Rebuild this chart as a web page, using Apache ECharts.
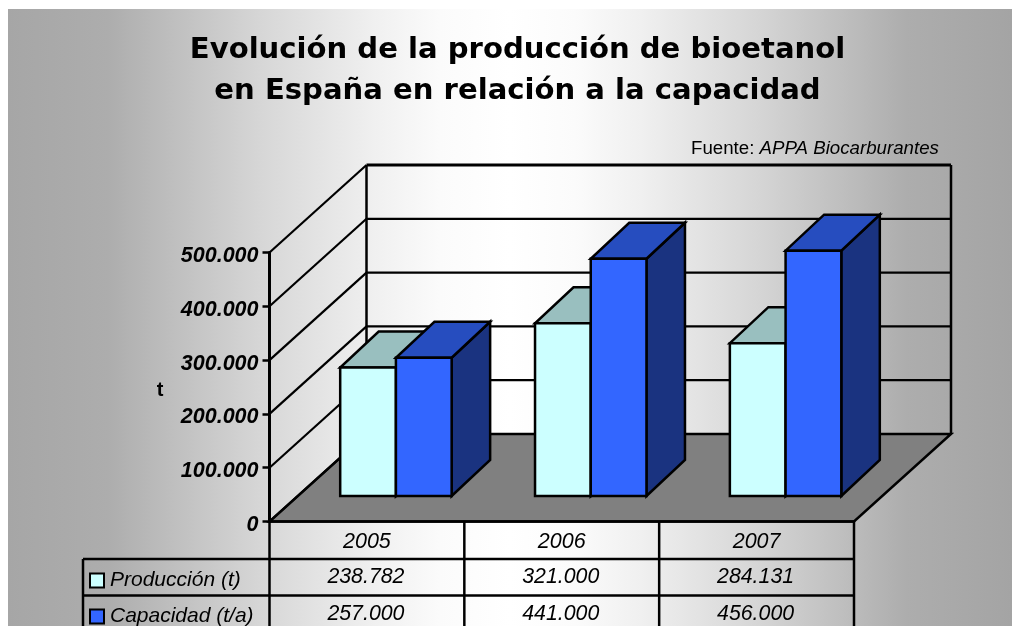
<!DOCTYPE html>
<html>
<head>
<meta charset="utf-8">
<style>
  html, body { margin: 0; padding: 0; background: #fff; }
  #chart { width: 1012px; height: 626px; }
</style>
<script src="https://cdn.jsdelivr.net/npm/echarts@6/dist/echarts.min.js"></script>
</head>
<body>
<div id="chart"></div>
<script>
// datos
const categories = ['2005', '2006', '2007']
const produccion = [238782, 321000, 284131]
const capacidad = [257000, 441000, 456000]
const yTicks = [0, 100000, 200000, 300000, 400000, 500000]
const serieProduccion = 'Producción (t)'
const serieCapacidad = 'Capacidad (t/a)'

const LABEL_FONT = '"Liberation Sans", Arial, sans-serif'

// profundidad de la caja y de las barras (falso 3D)
const BOX_DX = 97
const BOX_DY = -87.5
const BAR_DX = 38.5
const BAR_DY = -36
const BAR_SHIFT_X = 29
const BAR_SHIFT_Y = -25.5
const BAR_WIDTH_RATIO = 0.286

// filas de la tabla de datos, medidas desde el eje
const ROW_LINES = [37.5, 74]
const ROW_TEXT = [56, 92.5]
const TABLE_BOTTOM = 105
const TABLE_LEFT = 83

const fmt = v => String(v).replace(/\B(?=(\d{3})+(?!\d))/g, '.')

const line = (x1, y1, x2, y2, w) => ({
  type: 'line',
  shape: { x1, y1, x2, y2 },
  style: { stroke: '#000', lineWidth: w, fill: null }
})

const poly = (points, fill) => ({
  type: 'polygon',
  shape: { points },
  style: { fill, stroke: '#000', lineWidth: 2.5, lineJoin: 'miter' }
})

// suelo y paredes
const renderFloor = (params, api) => {
  const sys = params.coordSys
  const y = api.coord([0, 0])[1]
  const l = sys.x, r = sys.x + sys.width
  return {
    type: 'group',
    children: [
      poly([[l, y], [r, y], [r + BOX_DX, y + BOX_DY], [l + BOX_DX, y + BOX_DY]], '#808080'),
      line(l + BOX_DX, y + BOX_DY, l + BOX_DX, sys.y + BOX_DY, 2.5),
      line(r + BOX_DX, y + BOX_DY, r + BOX_DX, sys.y + BOX_DY, 2.5)
    ]
  }
}

const renderGrid = (params, api) => {
  const sys = params.coordSys
  const y = api.coord([0, api.value(1)])[1]
  const l = sys.x, r = sys.x + sys.width
  const w = api.value(1) === yTicks[yTicks.length - 1] ? 3 : 2.2
  return {
    type: 'group',
    children: [
      line(l, y, l + BOX_DX, y + BOX_DY, 2.2),
      line(l + BOX_DX, y + BOX_DY, r + BOX_DX, y + BOX_DY, w)
    ]
  }
}

// barra: frontal, tapa y lateral
const makeBar = (offset, front, top, side) => (params, api) => {
  const band = api.size([1, 0])[0]
  const w = band * BAR_WIDTH_RATIO
  const base = api.coord([api.value(0), 0])
  const head = api.coord([api.value(0), api.value(1)])
  const x1 = base[0] + BAR_SHIFT_X + offset * w
  const x2 = x1 + w
  const y0 = base[1] + BAR_SHIFT_Y
  const y1 = head[1] + BAR_SHIFT_Y
  return {
    type: 'group',
    children: [
      poly([[x2, y0], [x2 + BAR_DX, y0 + BAR_DY], [x2 + BAR_DX, y1 + BAR_DY], [x2, y1]], side),
      poly([[x1, y1], [x2, y1], [x2 + BAR_DX, y1 + BAR_DY], [x1 + BAR_DX, y1 + BAR_DY]], top),
      poly([[x1, y0], [x2, y0], [x2, y1], [x1, y1]], front)
    ]
  }
}

// tabla de datos bajo el eje
const renderTable = (params, api) => {
  const sys = params.coordSys
  const i = api.value(0)
  const band = sys.width / categories.length
  const y = api.coord([i, 0])[1]
  const cx = api.coord([i, 0])[0]
  const l = sys.x, r = sys.x + sys.width
  const cellText = (v, row) => ({
    type: 'text',
    style: {
      x: cx - 1, y: y + ROW_TEXT[row], text: fmt(v), align: 'center', verticalAlign: 'middle',
      font: 'italic 21.3px ' + LABEL_FONT, fill: '#000'
    }
  })
  const children = [
    line(cx + band / 2, y, cx + band / 2, y + TABLE_BOTTOM, 2.5),
    cellText(produccion[i], 0),
    cellText(capacidad[i], 1)
  ]
  if (i === 0) {
    children.push(line(l, y, l, y + TABLE_BOTTOM, 2.5))
    children.push(line(TABLE_LEFT, y + ROW_LINES[0], TABLE_LEFT, y + TABLE_BOTTOM, 2.5))
    ROW_LINES.forEach(d => children.push(line(TABLE_LEFT, y + d, r, y + d, 2.5)))
  }
  return { type: 'group', children }
}

const chart = echarts.init(document.getElementById('chart'))

chart.setOption({
  animation: false,
  graphic: [{
    type: 'rect',
    z: -10,
    shape: { x: 8, y: 9, width: 1004, height: 617 },
    style: {
      fill: new echarts.graphic.LinearGradient(0, 0, 1, 0, [
        { offset: 0, color: '#a6a6a6' },
        { offset: 0.1, color: '#adadad' },
        { offset: 0.25, color: '#d6d6d6' },
        { offset: 0.365, color: '#f0f0f0' },
        { offset: 0.43, color: '#fbfbfb' },
        { offset: 0.5, color: '#ffffff' },
        { offset: 0.565, color: '#fbfbfb' },
        { offset: 0.63, color: '#f0f0f0' },
        { offset: 0.745, color: '#d6d6d6' },
        { offset: 0.895, color: '#adadad' },
        { offset: 1, color: '#a4a4a4' }
      ])
    }
  }],
  title: [
    {
      text: 'Evolución de la producción de bioetanol\nen España en relación a la capacidad',
      left: 512.5,
      top: 25,
      textAlign: 'center',
      textStyle: { fontFamily: '"DejaVu Sans", Verdana, sans-serif', fontWeight: 'bold', fontSize: 29.1, lineHeight: 41, color: '#000' }
    },
    {
      text: '{a|Fuente: }{b|APPA Biocarburantes}',
      left: 686,
      top: 134,
      textStyle: {
        fontWeight: 'normal',
        rich: {
          a: { fontFamily: LABEL_FONT, fontSize: 18.7, fontWeight: 'normal', color: '#000' },
          b: { fontFamily: LABEL_FONT, fontSize: 18.7, fontWeight: 'normal', fontStyle: 'italic', color: '#000' }
        }
      }
    }
  ],
  legend: {
    orient: 'vertical',
    left: 84,
    top: 565,
    height: 80,
    itemWidth: 14,
    itemHeight: 14,
    itemGap: 15,
    icon: 'rect',
    selectedMode: false,
    data: [serieProduccion, serieCapacidad],
    itemStyle: { borderColor: '#000', borderWidth: 2 },
    textStyle: { fontFamily: LABEL_FONT, fontStyle: 'italic', fontSize: 21, color: '#000', padding: [0, 0, 0, 1] }
  },
  grid: { left: 269.5, top: 252.5, width: 584.5, height: 269 },
  xAxis: {
    type: 'category',
    data: categories,
    z: 5,
    axisLine: { lineStyle: { color: '#000', width: 2.5 } },
    axisTick: { show: false },
    axisLabel: { margin: 10, fontFamily: LABEL_FONT, fontStyle: 'italic', fontSize: 21.5, color: '#000' }
  },
  yAxis: {
    type: 'value',
    min: 0,
    max: 500000,
    interval: 100000,
    z: 5,
    name: 't',
    nameLocation: 'middle',
    nameGap: 106,
    nameRotate: 0,
    nameTextStyle: { fontFamily: LABEL_FONT, fontWeight: 'bold', fontSize: 20, color: '#000', verticalAlign: 'top', lineHeight: 6 },
    axisLine: { show: true, lineStyle: { color: '#000', width: 3 } },
    axisTick: { show: true, length: 7, lineStyle: { color: '#000', width: 2.5 } },
    splitLine: { show: false },
    axisLabel: {
      margin: 11,
      verticalAlign: 'top',
      lineHeight: 7,
      formatter: v => fmt(v),
      fontFamily: LABEL_FONT,
      fontStyle: 'italic',
      fontWeight: 'bold',
      fontSize: 21.5,
      color: '#000'
    }
  },
  series: [
    {
      name: 'suelo',
      type: 'custom',
      silent: true,
      data: [[0, 0]],
      renderItem: renderFloor
    },
    {
      name: 'rejilla',
      type: 'custom',
      silent: true,
      data: yTicks.map(t => [0, t]),
      renderItem: renderGrid
    },
    {
      name: 'tabla',
      type: 'custom',
      silent: true,
      data: categories.map((c, i) => [i, 0]),
      renderItem: renderTable
    },
    {
      name: serieProduccion,
      type: 'custom',
      itemStyle: { color: '#ccffff' },
      data: produccion.map((v, i) => [i, v]),
      renderItem: makeBar(-1, '#ccffff', '#99bfbf', '#668080')
    },
    {
      name: serieCapacidad,
      type: 'custom',
      itemStyle: { color: '#3366ff' },
      data: capacidad.map((v, i) => [i, v]),
      renderItem: makeBar(0, '#3366ff', '#264dbf', '#1a3380')
    }
  ]
})
</script>
</body>
</html>
